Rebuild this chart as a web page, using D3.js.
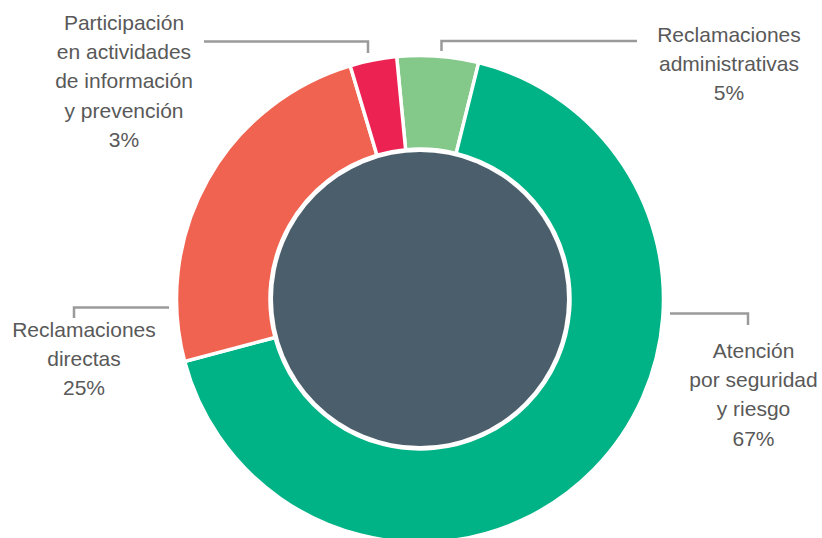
<!DOCTYPE html>
<html><head><meta charset="utf-8">
<script src="https://cdn.jsdelivr.net/npm/d3@7"></script>
<style>html,body{margin:0;padding:0;background:#fff;}svg{display:block;}</style>
</head><body>
<svg id="chart" width="822" height="538"></svg>
<script>
const categories = ["Reclamaciones administrativas", "Atención por seguridad y riesgo", "Reclamaciones directas", "Participación en actividades de información y prevención"];
const values = [5.4, 67.0, 24.5, 3.1];
const colors = ["#84c98a", "#00b386", "#f06350", "#ec2253"];
const labelLines = [
  ["Reclamaciones", "administrativas"],
  ["Atención", "por seguridad", "y riesgo"],
  ["Reclamaciones", "directas"],
  ["Participación", "en actividades", "de información", "y prevención"]
];
// label layout: text center x, first baseline y; leader polyline points
const labelLayout = [
  {x: 729, y: 42, line: [[441.5, 51], [441.5, 41], [637, 41]]},
  {x: 753.5, y: 358, line: [[670, 313.5], [748, 313.5], [748, 325]]},
  {x: 84, y: 337, line: [[74, 318], [74, 307.5], [169, 307.5]]},
  {x: 124, y: 30, line: [[204, 41.5], [368, 41.5], [368, 53]]}
];

const svg = d3.select("#chart");
const cx = 420, cy = 299, R = 243.5, r = 150, rCenter = 147;
const start = -5.5 * Math.PI / 180;
const pie = d3.pie().sort(null).startAngle(start).endAngle(start + 2 * Math.PI);
const arc = d3.arc().innerRadius(r).outerRadius(R);
const g = svg.append("g").attr("transform", `translate(${cx},${cy})`);
const arcs = pie(values);
g.selectAll("path.slice").data(arcs).join("path")
  .attr("class", "slice")
  .attr("d", arc)
  .attr("fill", (d, i) => colors[i])
  .attr("stroke", "#fff")
  .attr("stroke-width", 3.5)
  .attr("stroke-linejoin", "miter");
g.append("circle").attr("r", rCenter).attr("fill", "#4b5e6b");

const line = d3.line();
svg.selectAll("path.leader").data(labelLayout).join("path")
  .attr("class", "leader")
  .attr("d", d => line(d.line))
  .attr("fill", "none")
  .attr("stroke", "#9a9a9a")
  .attr("stroke-width", 2.5);

const total = d3.sum(values);
const lh = 29.2;
labelLines.forEach((lines, i) => {
  const all = lines.concat([Math.round(values[i] / total * 100) + "%"]);
  const t = svg.append("text")
    .attr("x", labelLayout[i].x)
    .attr("y", labelLayout[i].y)
    .attr("text-anchor", "middle")
    .attr("font-family", "'Liberation Sans', Arial, Helvetica, sans-serif")
    .attr("font-size", 21)
    .attr("fill", "#595959");
  all.forEach((s, j) => {
    t.append("tspan").attr("x", labelLayout[i].x).attr("y", labelLayout[i].y + j * lh).text(s);
  });
});
</script>
</body></html>
